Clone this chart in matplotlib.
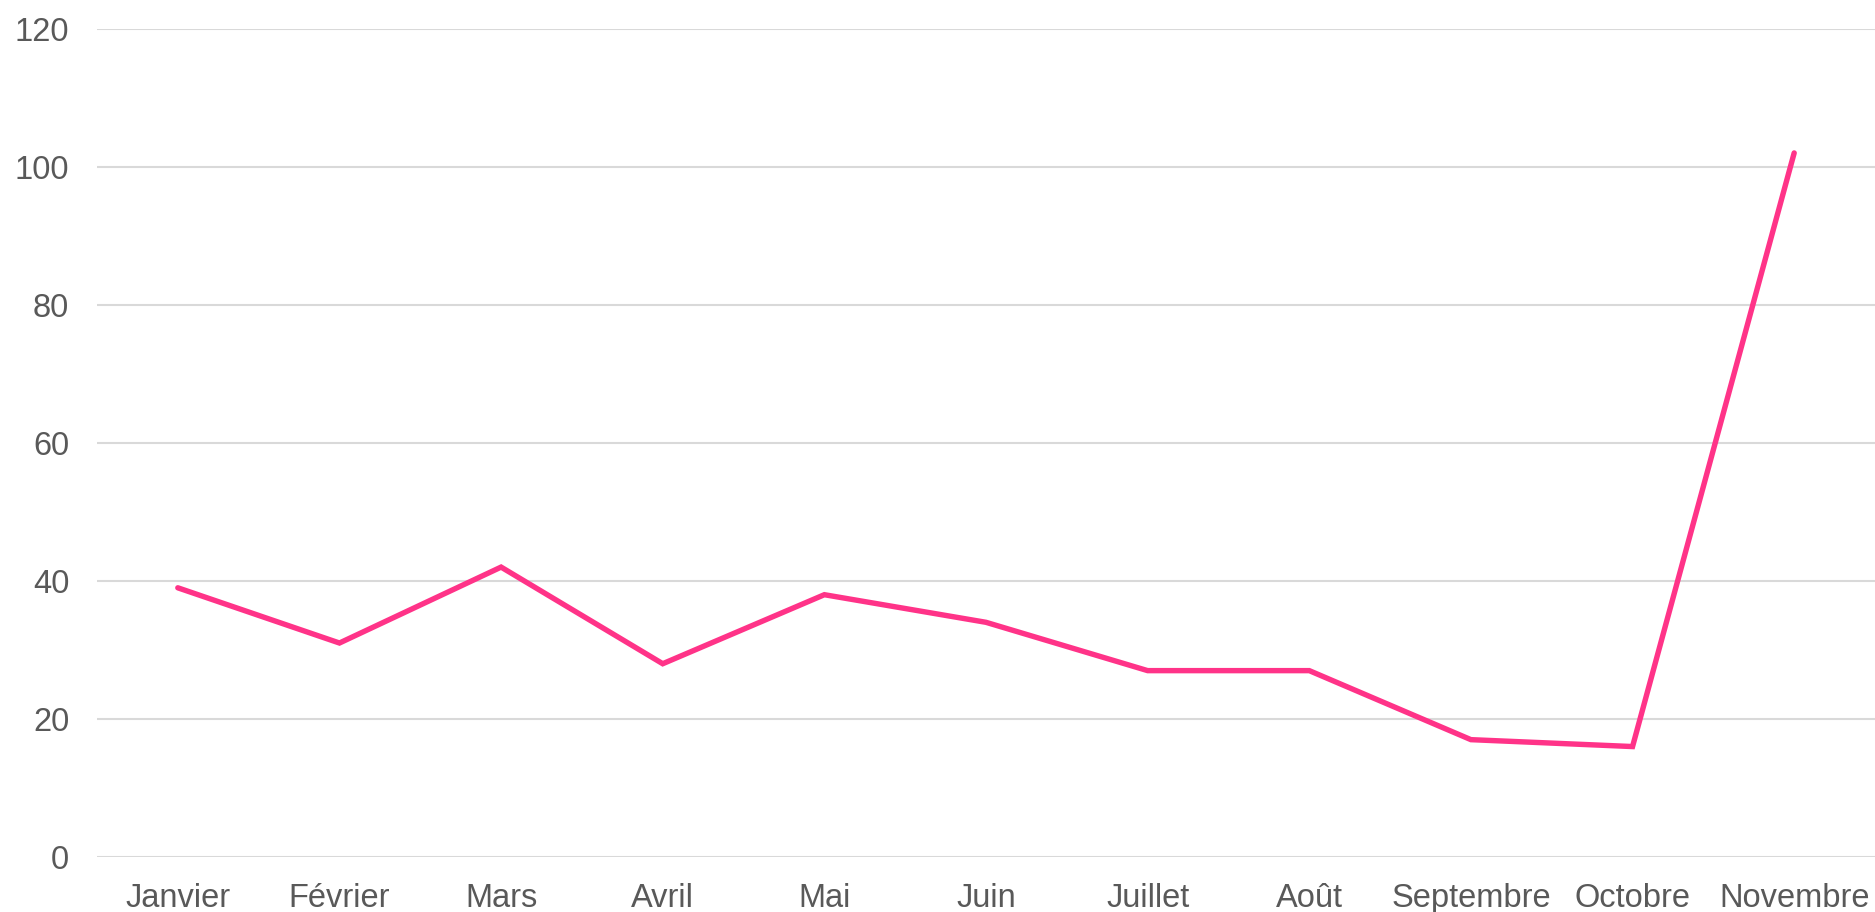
import numpy as np
import matplotlib.pyplot as plt

# data ------------------------------------------------------------------------
mois = ['Janvier', 'Février', 'Mars', 'Avril', 'Mai', 'Juin', 'Juillet',
        'Août', 'Septembre', 'Octobre', 'Novembre']
valeurs = [39, 31, 42, 28, 38, 34, 27, 27, 17, 16, 102]
yticks = [0, 20, 40, 60, 80, 100, 120]

plt.rcParams['font.family'] = ['Liberation Sans', 'DejaVu Sans']

fig = plt.figure(figsize=(18.75, 9.1201), dpi=100)
ax = fig.add_axes([97/1875, 1 - 857/912, 1 - 97/1875, (857 - 28.7)/912])

x = np.arange(len(mois))
ax.plot(x, valeurs, color='#ff3388', lw=3.9, solid_capstyle='round',
        solid_joinstyle='miter', zorder=3)

ax.set_xlim(-0.5, len(mois) - 0.5)
ax.set_ylim(0, 120)
ax.set_yticks(yticks)
ax.set_xticks(x)
ax.set_xticklabels(mois)

ax.grid(axis='y', color='#d9d9d9', lw=1.5)
ax.set_axisbelow(True)
for s in ax.spines.values():
    s.set_visible(False)
ax.tick_params(axis='both', length=0, labelsize=23.5, labelcolor='#595959')
ax.tick_params(axis='y', pad=20)
ax.tick_params(axis='x', pad=19)

fig.savefig('out.png', dpi=100, facecolor='white')
